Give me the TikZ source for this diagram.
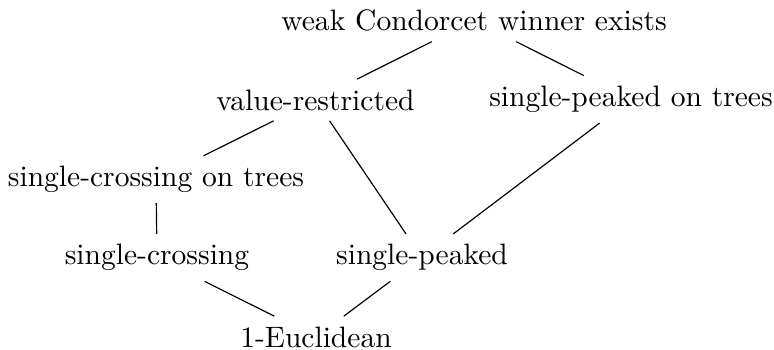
\documentclass[tikz,border=0pt]{standalone}
\begin{document}
\begin{tikzpicture}[x=0.3385pt,y=-0.3385pt]
\useasboundingbox (0,0) rectangle (774,350);
\node (wcw) at (474,20.5) {weak Condorcet winner exists};
\node (vr) at (315.5,100) {value-restricted};
\node (spt) at (631,99.3) {single-peaked on trees};
\node (sct) at (156,179.5) {single-crossing on trees};
\node (sc) at (157,257.6) {single-crossing};
\node (sp) at (422,257.6) {single-peaked};
\node (eu) at (316,337) {1-Euclidean};
\draw (wcw) -- (vr);
\draw (wcw) -- (spt);
\draw (vr) -- (sct);
\draw (vr) -- (sp);
\draw (spt) -- (sp);
\draw (sct) -- (sc);
\draw (sc) -- (eu);
\draw (sp) -- (eu);
\end{tikzpicture}
\end{document}
